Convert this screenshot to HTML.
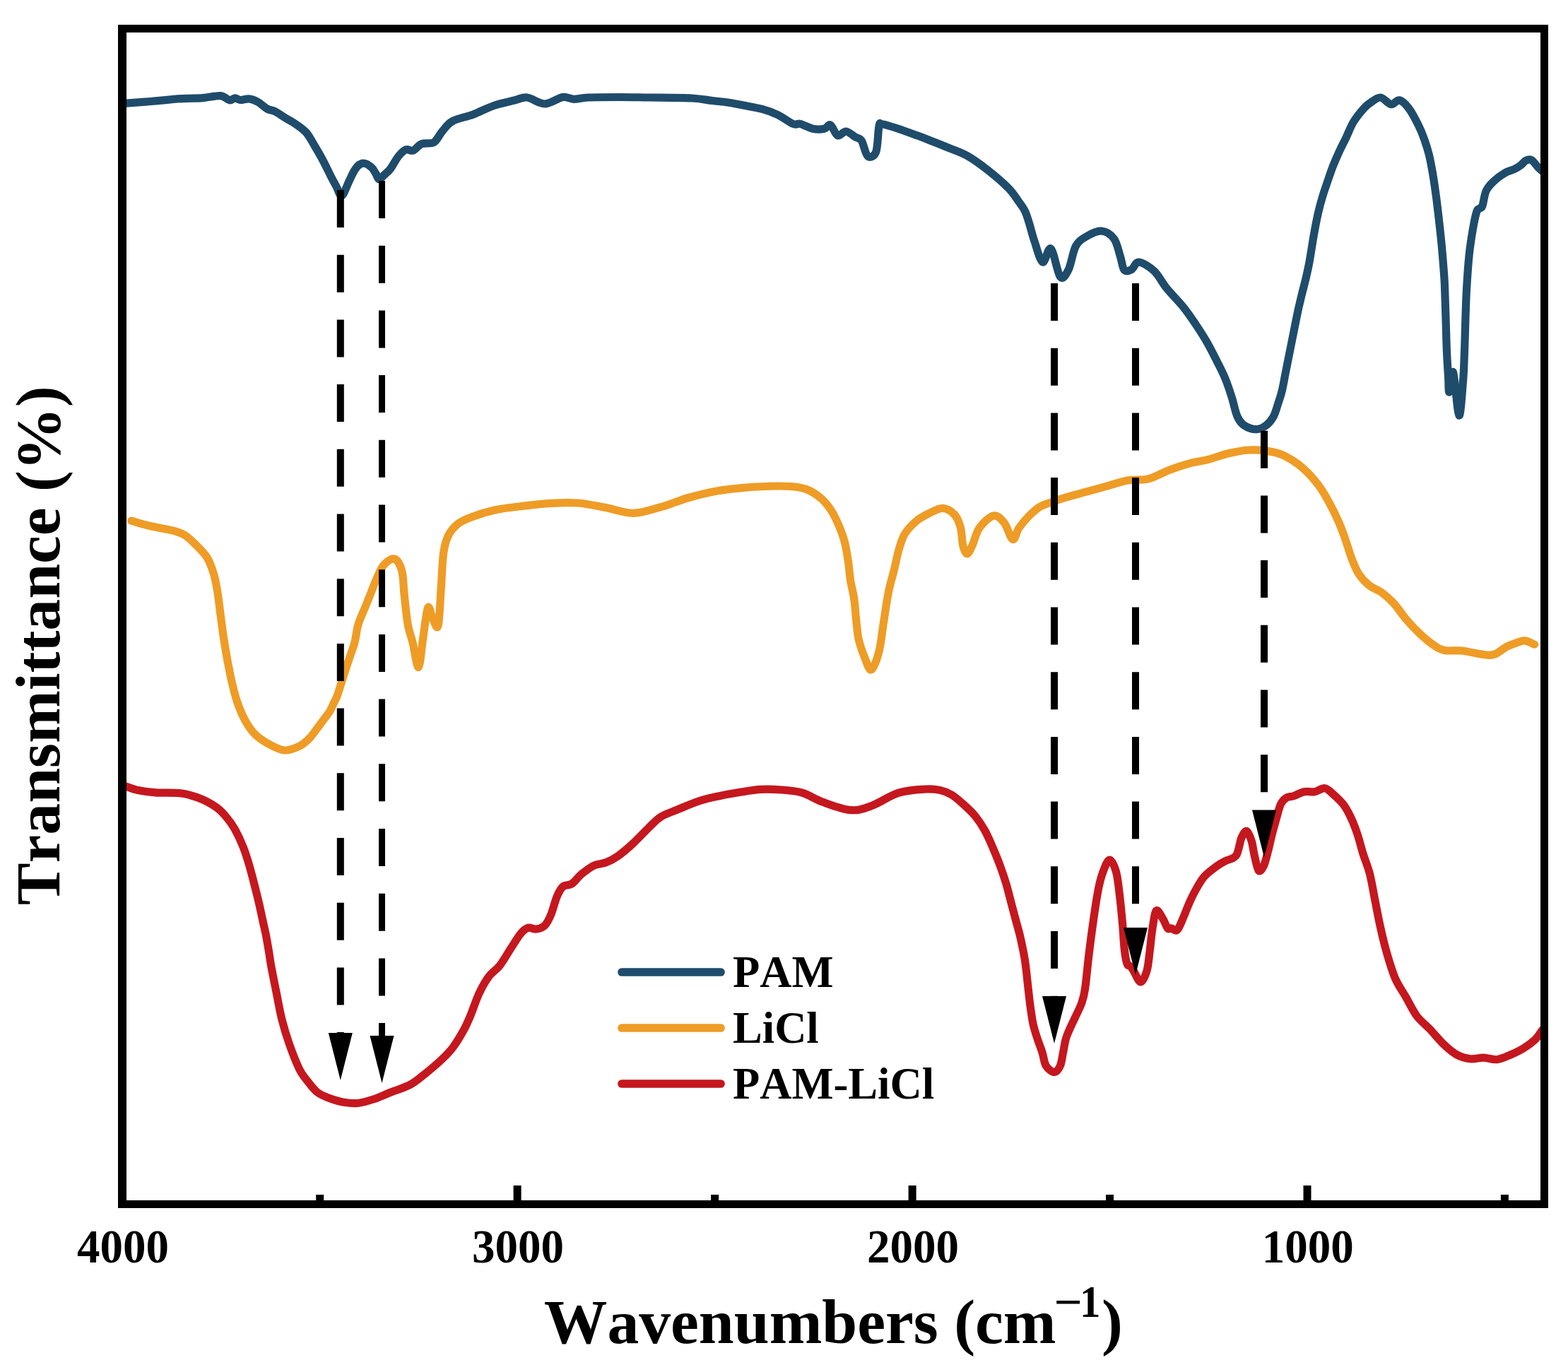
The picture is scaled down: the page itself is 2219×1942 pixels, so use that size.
<!DOCTYPE html>
<html><head><meta charset="utf-8"><style>
html,body{margin:0;padding:0;background:#fff;}
svg{display:block;}
text{font-kerning:none;font-family:"Liberation Serif","Times New Roman",serif;font-weight:bold;fill:#000;}
.tk{font-size:65px;}
.lg{font-size:62.6px;}
.ax{font-size:89.7px;}
</style></head><body>
<svg width="2219" height="1942" viewBox="0 0 2219 1942">
<rect width="2219" height="1942" fill="#fff"/>
<g fill="none" stroke-linejoin="round" stroke-linecap="round" stroke-width="11.2">
<path d="M176.0,146.3 C176.5,146.3 172.5,146.7 178.8,146.2 C185.1,145.7 200.8,144.6 214.0,143.5 C227.2,142.4 245.8,140.4 258.0,139.6 C270.2,138.8 278.0,139.3 287.0,138.6 C296.0,137.9 305.7,135.1 312.0,135.6 C318.3,136.1 321.6,141.3 325.0,141.8 C328.4,142.3 330.1,138.9 332.6,138.8 C335.1,138.8 336.6,141.3 340.0,141.5 C343.4,141.7 348.8,139.5 353.0,140.0 C357.2,140.5 360.8,142.0 365.0,144.3 C369.2,146.6 373.9,151.7 378.0,154.0 C382.1,156.3 385.4,155.8 389.7,158.0 C394.0,160.2 399.1,164.0 404.0,167.0 C408.9,170.0 414.1,172.5 419.0,176.0 C423.9,179.5 429.4,183.0 433.7,188.0 C438.0,193.0 441.1,199.5 445.0,206.0 C448.9,212.5 453.0,219.5 457.0,227.0 C461.0,234.5 465.8,244.8 469.0,251.0 C472.2,257.2 473.6,259.7 476.0,264.0 C478.4,268.3 480.7,278.2 483.7,277.0 C486.7,275.8 491.1,262.4 494.0,256.5 C496.9,250.6 498.9,245.7 501.3,241.8 C503.7,237.9 506.1,234.7 508.6,233.0 C511.2,231.3 513.7,230.7 516.6,231.4 C519.5,232.1 523.6,235.0 526.2,237.4 C528.8,239.8 530.3,243.3 532.0,246.0 C533.7,248.7 534.4,253.4 536.4,253.7 C538.4,254.0 541.0,250.1 543.7,247.7 C546.4,245.2 549.1,243.4 552.5,239.0 C555.9,234.6 560.3,225.5 564.0,221.0 C567.7,216.5 571.0,213.1 574.5,211.8 C578.0,210.5 581.1,214.3 584.8,213.0 C588.5,211.7 591.6,205.6 596.5,203.7 C601.4,201.8 609.1,204.4 614.0,201.5 C618.9,198.6 621.4,191.0 625.8,186.0 C630.2,181.0 633.1,175.5 640.4,171.5 C647.7,167.5 659.9,165.7 669.7,162.0 C679.5,158.3 689.3,152.8 699.0,149.5 C708.7,146.2 720.2,143.9 728.0,142.0 C735.8,140.1 738.8,137.2 746.0,138.0 C753.2,138.8 762.7,147.1 771.0,147.0 C779.3,146.9 789.2,138.7 796.0,137.6 C802.8,136.5 805.9,140.2 812.0,140.3 C818.1,140.4 821.8,138.5 832.5,138.0 C843.2,137.5 861.9,137.5 876.5,137.5 C891.1,137.5 902.9,137.8 920.0,138.0 C937.1,138.2 964.3,138.2 979.0,139.0 C993.7,139.8 999.5,141.5 1008.0,142.5 C1016.5,143.5 1023.1,144.0 1030.0,145.0 C1036.9,146.0 1041.2,147.0 1049.3,148.6 C1057.4,150.2 1070.0,152.1 1078.6,154.4 C1087.1,156.7 1093.3,159.0 1100.6,162.5 C1107.9,166.0 1117.1,173.2 1122.5,175.4 C1127.9,177.6 1128.1,174.2 1132.8,175.4 C1137.5,176.6 1144.8,181.2 1150.4,182.3 C1156.0,183.5 1162.3,183.2 1166.5,182.3 C1170.7,181.4 1172.1,175.4 1175.3,177.0 C1178.5,178.6 1181.8,190.3 1185.5,191.8 C1189.2,193.3 1193.0,185.6 1197.2,186.0 C1201.4,186.4 1206.7,191.8 1210.4,194.0 C1214.1,196.2 1216.3,194.5 1219.2,199.0 C1222.1,203.5 1224.6,218.3 1228.0,221.0 C1231.4,223.7 1237.0,222.1 1239.7,215.0 C1242.4,207.9 1242.5,185.2 1244.0,178.6 C1245.5,172.0 1244.3,175.2 1248.5,175.7 C1252.7,176.2 1260.8,178.8 1269.0,181.5 C1277.2,184.2 1289.5,188.7 1298.0,191.8 C1306.5,194.9 1313.1,197.6 1320.0,200.3 C1326.9,203.0 1331.2,204.7 1339.3,208.0 C1347.4,211.3 1358.8,214.8 1368.6,220.3 C1378.4,225.8 1388.2,233.1 1398.0,240.8 C1407.8,248.5 1419.9,258.9 1427.2,266.4 C1434.5,273.8 1437.9,280.1 1441.8,285.5 C1445.7,290.9 1448.1,293.9 1450.6,299.0 C1453.0,304.1 1454.3,309.0 1456.5,316.0 C1458.7,323.0 1460.6,331.8 1463.8,341.0 C1467.0,350.2 1471.6,369.2 1475.5,371.0 C1479.4,372.8 1483.0,348.6 1487.2,352.0 C1491.4,355.4 1496.3,386.7 1500.4,391.7 C1504.5,396.7 1508.3,389.2 1512.0,382.0 C1515.7,374.8 1518.2,356.3 1522.4,348.5 C1526.6,340.7 1530.9,338.6 1537.0,335.0 C1543.1,331.4 1552.4,326.5 1559.0,327.0 C1565.6,327.5 1572.2,332.0 1576.6,338.0 C1581.0,344.0 1583.0,355.7 1585.4,363.0 C1587.8,370.3 1588.3,378.9 1591.0,382.0 C1593.7,385.1 1598.0,383.2 1601.5,381.4 C1605.0,379.6 1606.4,370.6 1611.7,371.0 C1617.0,371.4 1627.0,377.6 1633.5,383.8 C1640.0,390.0 1644.1,399.5 1651.0,408.0 C1657.9,416.5 1667.6,425.9 1674.7,434.7 C1681.8,443.5 1687.7,452.4 1693.4,461.0 C1699.1,469.6 1704.1,477.3 1709.0,486.0 C1713.9,494.7 1718.8,504.7 1723.0,513.0 C1727.2,521.3 1730.6,527.7 1734.0,536.0 C1737.4,544.3 1740.6,554.1 1743.4,563.0 C1746.2,571.9 1748.1,582.9 1751.0,589.4 C1753.9,595.9 1756.1,599.0 1760.6,602.0 C1765.1,605.0 1772.6,607.7 1777.8,607.7 C1783.0,607.7 1787.9,605.0 1791.9,602.0 C1795.9,599.0 1799.2,595.0 1802.0,590.0 C1804.8,585.0 1806.5,578.1 1808.5,572.0 C1810.5,565.9 1812.3,561.2 1814.2,553.4 C1816.1,545.6 1817.9,534.4 1819.8,525.0 C1821.7,515.6 1823.5,506.3 1825.4,497.0 C1827.3,487.7 1829.1,478.3 1831.0,469.0 C1832.9,459.7 1834.7,450.0 1836.6,441.2 C1838.5,432.4 1840.5,424.2 1842.5,416.0 C1844.5,407.8 1846.7,400.0 1848.5,392.0 C1850.3,384.0 1851.7,378.2 1853.5,368.0 C1855.3,357.8 1857.6,342.2 1859.6,331.0 C1861.6,319.8 1863.6,309.6 1865.6,300.8 C1867.6,292.0 1869.4,285.6 1871.7,278.0 C1874.0,270.4 1876.7,262.8 1879.2,255.5 C1881.7,248.2 1883.9,241.4 1886.7,234.4 C1889.5,227.4 1892.8,219.8 1895.8,213.3 C1898.8,206.8 1901.5,202.0 1904.8,195.2 C1908.1,188.4 1911.1,179.6 1915.4,172.6 C1919.7,165.6 1926.4,157.6 1930.5,153.0 C1934.6,148.4 1936.2,147.5 1940.0,145.0 C1943.8,142.5 1948.8,137.6 1953.6,138.0 C1958.4,138.4 1964.2,147.1 1968.7,147.7 C1973.2,148.3 1976.2,140.8 1980.4,141.8 C1984.6,142.8 1989.3,147.6 1993.8,153.5 C1998.3,159.4 2003.6,169.8 2007.2,177.0 C2010.8,184.2 2013.1,190.0 2015.6,197.0 C2018.1,204.0 2020.3,211.0 2022.3,218.8 C2024.2,226.6 2025.6,234.2 2027.3,244.0 C2029.0,253.8 2030.6,264.8 2032.3,277.4 C2034.0,289.9 2035.9,306.7 2037.3,319.3 C2038.7,331.9 2039.6,340.2 2040.7,352.8 C2041.8,365.4 2043.3,383.4 2044.0,394.6 C2044.7,405.8 2044.6,409.0 2045.0,420.0 C2045.4,431.0 2045.9,447.0 2046.3,460.4 C2046.7,473.8 2047.0,488.3 2047.6,500.6 C2048.2,512.9 2049.0,524.9 2049.6,534.0 C2050.2,543.1 2049.8,556.2 2051.0,555.0 C2052.2,553.8 2054.2,521.5 2056.5,527.0 C2058.8,532.5 2062.5,585.7 2064.8,588.0 C2067.1,590.3 2069.1,555.4 2070.4,540.8 C2071.7,526.2 2071.8,514.9 2072.4,500.6 C2073.0,486.3 2073.3,470.1 2073.8,455.0 C2074.3,439.9 2074.6,425.6 2075.5,410.0 C2076.4,394.4 2077.6,375.5 2079.1,361.1 C2080.6,346.7 2082.7,333.9 2084.5,323.6 C2086.3,313.3 2088.2,304.3 2089.8,299.5 C2091.4,294.7 2092.7,296.4 2094.0,295.0 C2095.3,293.6 2096.4,295.6 2097.9,291.4 C2099.4,287.2 2100.5,275.8 2103.2,270.0 C2105.9,264.2 2109.4,260.8 2113.9,256.6 C2118.4,252.4 2125.1,247.5 2130.0,244.6 C2134.9,241.7 2139.7,241.0 2143.4,239.2 C2147.1,237.4 2149.3,236.0 2152.0,234.0 C2154.7,232.0 2156.9,228.4 2159.5,227.2 C2162.1,226.0 2164.8,225.1 2167.5,226.6 C2170.2,228.1 2173.4,233.3 2176.0,236.0 C2178.6,238.7 2181.8,241.4 2183.0,242.5" stroke="#1f4c6b"/>
<path d="M185.9,737.1 C190.3,738.3 202.7,742.2 212.4,744.5 C222.1,746.8 236.1,748.8 244.2,750.9 C252.3,753.0 255.9,754.0 261.2,757.2 C266.5,760.4 270.7,764.7 276.0,770.0 C281.3,775.3 288.6,781.9 293.0,789.0 C297.4,796.1 300.0,804.3 302.5,812.4 C305.0,820.5 306.2,828.3 307.8,837.8 C309.4,847.3 310.6,859.0 312.0,869.6 C313.4,880.2 314.7,890.8 316.3,901.4 C317.9,912.0 319.7,922.6 321.6,933.2 C323.6,943.8 325.7,955.1 328.0,965.0 C330.3,974.9 332.4,983.8 335.4,992.6 C338.4,1001.4 341.8,1010.2 346.0,1018.0 C350.2,1025.8 354.8,1033.2 360.8,1039.2 C366.8,1045.2 374.9,1050.2 382.0,1054.0 C389.1,1057.8 396.2,1061.7 403.2,1062.0 C410.2,1062.3 418.2,1058.8 424.0,1056.0 C429.8,1053.2 433.9,1049.1 438.0,1045.0 C442.1,1040.9 445.2,1035.8 448.4,1031.6 C451.6,1027.4 454.1,1023.9 457.0,1020.0 C459.9,1016.1 463.5,1012.0 466.0,1008.0 C468.5,1004.0 470.1,999.9 472.0,996.0 C473.9,992.1 475.4,989.9 477.3,984.7 C479.2,979.5 480.9,973.4 483.6,965.0 C486.3,956.6 490.4,943.7 493.5,934.4 C496.6,925.1 499.7,917.7 501.9,909.3 C504.1,900.9 504.4,892.6 506.9,884.2 C509.4,875.8 514.2,866.0 517.0,859.0 C519.8,852.0 520.9,849.3 523.7,842.3 C526.5,835.3 530.4,824.5 533.7,817.2 C537.1,810.0 539.6,803.1 543.8,798.8 C548.0,794.5 554.6,789.5 558.8,791.2 C563.0,792.9 566.7,800.3 568.9,808.8 C571.1,817.3 570.8,829.7 572.2,842.3 C573.6,854.9 575.2,873.0 577.2,884.2 C579.2,895.4 581.5,899.3 584.0,909.3 C586.5,919.3 589.8,945.8 592.3,944.4 C594.8,943.0 596.8,915.1 599.0,901.0 C601.2,886.9 603.5,864.1 605.7,859.9 C607.9,855.7 610.0,871.5 612.4,875.8 C614.8,880.1 618.0,892.8 620.0,885.8 C622.0,878.8 622.9,851.0 624.1,834.0 C625.4,817.0 625.8,796.3 627.5,783.7 C629.2,771.1 630.9,765.6 634.2,758.6 C637.6,751.6 642.0,746.4 647.6,741.9 C653.2,737.4 658.7,735.1 667.6,731.8 C676.5,728.4 688.9,724.4 701.0,721.8 C713.1,719.2 727.0,717.9 740.0,716.3 C753.0,714.7 766.0,713.0 779.0,712.3 C792.0,711.6 805.0,711.0 818.0,712.0 C831.0,713.0 844.2,716.2 857.2,718.6 C870.2,721.0 883.3,726.6 896.3,726.4 C909.3,726.2 922.3,721.2 935.3,717.6 C948.3,714.0 961.4,708.2 974.4,704.5 C987.4,700.8 1000.4,697.6 1013.4,695.2 C1026.4,692.8 1037.8,691.5 1052.5,690.3 C1067.2,689.1 1088.4,688.1 1101.3,688.0 C1114.2,687.9 1122.4,688.5 1130.0,689.7 C1137.6,690.9 1141.1,692.1 1146.7,695.0 C1152.3,697.9 1158.5,702.0 1163.5,706.8 C1168.5,711.5 1173.0,717.4 1176.9,723.5 C1180.8,729.6 1183.9,736.4 1187.0,743.6 C1190.1,750.9 1193.1,758.6 1195.3,767.0 C1197.5,775.4 1198.9,784.6 1200.3,793.8 C1201.7,803.0 1202.3,813.4 1203.7,822.3 C1205.1,831.2 1207.3,837.6 1208.7,847.4 C1210.1,857.2 1210.9,871.2 1212.0,881.0 C1213.1,890.8 1213.4,897.7 1215.4,906.0 C1217.4,914.3 1220.9,924.0 1223.8,931.0 C1226.7,938.0 1229.7,949.3 1233.0,947.9 C1236.3,946.5 1240.9,933.9 1243.8,922.8 C1246.7,911.6 1248.3,895.0 1250.5,881.0 C1252.7,867.0 1254.7,851.6 1257.2,839.0 C1259.7,826.4 1263.1,815.9 1265.6,805.6 C1268.1,795.3 1269.8,785.4 1272.3,777.0 C1274.8,768.6 1276.5,762.0 1280.7,755.3 C1284.9,748.6 1291.8,741.7 1297.4,737.0 C1303.0,732.3 1308.1,729.9 1314.2,726.9 C1320.3,723.9 1328.2,719.0 1334.3,719.3 C1340.4,719.6 1346.8,724.0 1351.0,728.6 C1355.2,733.2 1357.5,739.8 1359.4,747.0 C1361.4,754.2 1361.2,765.8 1362.7,772.0 C1364.2,778.2 1366.4,784.0 1368.6,784.0 C1370.8,784.0 1373.1,778.2 1376.0,772.0 C1378.9,765.8 1381.2,754.0 1386.2,747.0 C1391.2,740.0 1400.4,731.1 1406.2,730.0 C1412.0,728.9 1416.8,734.7 1421.3,740.3 C1425.8,745.9 1429.8,762.3 1433.2,763.5 C1436.7,764.7 1438.1,753.0 1442.0,747.4 C1445.9,741.8 1451.7,734.9 1456.6,729.9 C1461.5,724.9 1466.4,720.5 1471.3,717.4 C1476.2,714.3 1479.9,713.7 1486.0,711.5 C1492.1,709.3 1499.5,706.8 1508.0,704.2 C1516.5,701.7 1527.5,698.9 1537.2,696.2 C1547.0,693.5 1556.7,690.8 1566.5,688.1 C1576.3,685.4 1586.0,681.7 1595.8,680.0 C1605.5,678.3 1615.2,680.3 1625.0,677.9 C1634.8,675.5 1644.6,669.1 1654.4,665.4 C1664.2,661.7 1674.4,658.4 1683.7,655.9 C1693.0,653.4 1700.9,652.8 1710.0,650.4 C1719.1,648.0 1729.0,644.0 1738.5,641.8 C1748.0,639.6 1758.5,637.6 1767.0,637.0 C1775.5,636.4 1781.8,636.9 1789.7,638.0 C1797.6,639.1 1805.6,639.8 1814.4,643.7 C1823.2,647.7 1834.3,654.6 1842.8,661.7 C1851.3,668.8 1859.3,678.2 1865.6,686.4 C1871.9,694.6 1876.1,702.5 1880.8,711.0 C1885.5,719.5 1890.2,729.1 1894.0,737.6 C1897.8,746.1 1900.3,753.4 1903.5,762.3 C1906.7,771.2 1909.8,782.6 1913.0,790.8 C1916.2,799.0 1918.4,805.4 1922.5,811.7 C1926.6,818.0 1932.3,824.3 1937.7,828.7 C1943.1,833.1 1949.1,834.1 1954.8,838.2 C1960.5,842.3 1966.0,847.0 1971.9,853.4 C1977.8,859.8 1983.7,869.3 1990.0,876.6 C1996.3,883.9 2003.0,891.0 2009.5,897.1 C2016.0,903.2 2023.3,909.3 2029.0,913.2 C2034.7,917.1 2037.2,919.2 2043.7,920.5 C2050.2,921.8 2060.8,920.3 2068.1,921.0 C2075.4,921.7 2081.2,923.4 2087.7,924.5 C2094.2,925.6 2102.3,927.2 2107.2,927.4 C2112.1,927.5 2112.9,927.3 2117.0,925.4 C2121.1,923.5 2126.7,918.3 2131.6,915.7 C2136.5,913.1 2141.8,911.3 2146.2,909.8 C2150.6,908.3 2153.8,906.5 2158.0,906.9 C2162.2,907.3 2169.3,911.3 2171.6,912.2" stroke="#ee9c26"/>
<path d="M179.2,1113.4 C181.8,1114.2 188.3,1117.1 195.1,1118.5 C201.9,1119.9 210.4,1121.1 220.2,1121.8 C230.0,1122.5 245.3,1121.9 253.7,1122.6 C262.1,1123.3 264.9,1124.5 270.5,1126.0 C276.1,1127.5 281.1,1129.0 287.2,1131.9 C293.3,1134.8 301.7,1139.4 307.3,1143.6 C312.9,1147.8 316.5,1152.0 320.7,1157.0 C324.9,1162.0 328.5,1166.7 332.4,1173.7 C336.3,1180.7 340.8,1190.4 344.1,1198.8 C347.5,1207.2 350.0,1215.6 352.5,1224.0 C355.0,1232.4 357.3,1241.7 359.2,1249.0 C361.1,1256.3 362.5,1262.0 364.0,1268.0 C365.5,1274.0 366.6,1278.7 368.0,1285.0 C369.4,1291.3 371.0,1299.2 372.5,1306.0 C374.0,1312.8 375.5,1318.9 376.8,1325.7 C378.1,1332.5 379.3,1339.8 380.5,1347.0 C381.7,1354.2 382.2,1359.3 384.0,1369.0 C385.8,1378.7 388.8,1393.2 391.2,1405.2 C393.6,1417.2 395.5,1429.2 398.5,1441.3 C401.5,1453.3 405.1,1465.5 409.3,1477.5 C413.5,1489.5 419.5,1504.8 423.8,1513.6 C428.1,1522.3 430.8,1524.6 435.0,1530.0 C439.2,1535.4 444.0,1542.0 449.0,1546.0 C454.0,1550.0 459.0,1551.7 465.0,1554.0 C471.0,1556.3 478.4,1558.8 485.2,1560.0 C492.0,1561.2 498.8,1562.2 506.0,1561.5 C513.2,1560.8 520.7,1558.4 528.2,1556.0 C535.7,1553.6 542.0,1550.5 550.8,1547.0 C559.6,1543.5 572.2,1539.8 581.0,1535.0 C589.8,1530.2 596.0,1524.3 603.5,1518.3 C611.0,1512.2 619.8,1504.7 626.1,1498.7 C632.4,1492.7 636.2,1489.0 641.2,1482.2 C646.2,1475.4 652.2,1465.4 656.3,1458.0 C660.4,1450.6 662.0,1446.5 665.6,1438.0 C669.2,1429.5 673.4,1416.0 677.7,1406.8 C682.0,1397.6 686.6,1389.2 691.5,1382.6 C696.4,1376.0 701.8,1373.6 707.0,1367.0 C712.2,1360.4 717.8,1350.3 722.7,1342.8 C727.6,1335.3 732.5,1326.9 736.5,1322.0 C740.5,1317.1 743.1,1314.6 746.9,1313.4 C750.6,1312.2 755.0,1315.6 759.0,1315.0 C763.0,1314.4 767.5,1313.4 771.0,1310.0 C774.5,1306.6 776.9,1301.3 779.8,1294.4 C782.7,1287.5 785.5,1275.0 788.4,1268.4 C791.3,1261.8 793.5,1257.5 797.0,1254.6 C800.5,1251.7 804.9,1253.9 809.2,1251.0 C813.5,1248.1 817.8,1241.6 823.0,1237.3 C828.2,1233.0 834.5,1228.0 840.3,1225.2 C846.1,1222.5 851.8,1223.1 857.6,1220.8 C863.4,1218.5 868.6,1215.8 875.0,1211.3 C881.4,1206.8 888.5,1200.6 895.7,1194.0 C902.9,1187.4 911.6,1177.8 918.2,1171.5 C924.8,1165.2 928.6,1160.3 935.5,1156.0 C942.4,1151.7 950.6,1149.4 959.5,1145.7 C968.4,1142.0 979.0,1137.2 988.8,1134.0 C998.5,1130.8 1008.2,1128.8 1018.0,1126.7 C1027.8,1124.6 1037.6,1122.9 1047.4,1121.3 C1057.2,1119.7 1066.9,1117.8 1076.7,1117.3 C1086.5,1116.8 1096.2,1117.2 1106.0,1118.0 C1115.8,1118.8 1125.5,1119.3 1135.3,1122.2 C1145.1,1125.1 1153.2,1131.2 1164.6,1135.3 C1176.0,1139.4 1192.3,1145.7 1203.7,1146.6 C1215.1,1147.5 1221.6,1144.9 1233.0,1140.8 C1244.4,1136.7 1259.0,1126.2 1272.0,1122.2 C1285.0,1118.2 1301.3,1117.6 1311.0,1117.0 C1320.7,1116.4 1324.0,1117.1 1330.0,1118.4 C1336.0,1119.7 1341.1,1121.7 1346.7,1125.0 C1352.3,1128.3 1357.9,1133.5 1363.5,1138.5 C1369.1,1143.5 1375.2,1149.1 1380.2,1155.2 C1385.2,1161.3 1389.4,1167.8 1393.6,1175.3 C1397.8,1182.8 1401.7,1192.1 1405.3,1200.5 C1408.9,1208.9 1412.3,1217.2 1415.4,1225.6 C1418.5,1234.0 1421.3,1242.3 1423.8,1250.7 C1426.3,1259.1 1428.3,1267.4 1430.5,1275.8 C1432.7,1284.2 1434.9,1292.6 1437.1,1301.0 C1439.3,1309.4 1441.6,1316.2 1443.8,1326.0 C1446.0,1335.8 1448.6,1347.2 1450.5,1359.5 C1452.4,1371.8 1453.9,1389.0 1455.2,1400.0 C1456.5,1411.0 1457.0,1416.8 1458.2,1425.2 C1459.4,1433.6 1460.5,1442.8 1462.2,1450.3 C1463.9,1457.8 1466.0,1463.7 1468.2,1470.4 C1470.4,1477.1 1473.2,1484.1 1475.2,1490.5 C1477.2,1496.9 1477.5,1504.1 1480.3,1508.6 C1483.1,1513.1 1488.9,1517.7 1492.3,1517.7 C1495.7,1517.7 1498.4,1513.1 1500.4,1508.6 C1502.4,1504.1 1503.1,1496.9 1504.4,1490.5 C1505.7,1484.1 1506.7,1476.3 1508.4,1470.4 C1510.1,1464.5 1512.2,1460.3 1514.4,1455.3 C1516.6,1450.3 1518.7,1446.1 1521.4,1440.3 C1524.1,1434.5 1528.2,1426.9 1530.5,1420.2 C1532.8,1413.5 1533.8,1411.5 1535.5,1400.0 C1537.2,1388.5 1539.0,1367.5 1541.0,1351.0 C1543.0,1334.5 1545.4,1316.3 1547.6,1301.0 C1549.8,1285.7 1552.1,1270.2 1554.3,1259.0 C1556.5,1247.8 1558.3,1241.0 1561.0,1234.0 C1563.7,1227.0 1567.2,1217.0 1570.3,1217.0 C1573.4,1217.0 1577.1,1225.6 1579.5,1234.0 C1581.9,1242.4 1583.0,1254.9 1584.5,1267.4 C1586.0,1280.0 1587.6,1296.7 1588.7,1309.3 C1589.8,1321.9 1590.2,1333.7 1591.2,1342.8 C1592.2,1351.9 1593.5,1359.8 1595.0,1364.0 C1596.5,1368.2 1598.5,1366.3 1600.0,1368.0 C1601.5,1369.7 1601.8,1370.4 1604.2,1374.1 C1606.6,1377.8 1611.2,1390.0 1614.3,1390.0 C1617.4,1390.0 1620.9,1381.1 1623.0,1374.0 C1625.1,1366.9 1625.7,1357.4 1627.0,1347.4 C1628.3,1337.4 1629.4,1323.6 1631.0,1313.9 C1632.6,1304.2 1634.0,1291.2 1636.4,1289.0 C1638.9,1286.8 1643.0,1296.3 1645.7,1300.5 C1648.4,1304.7 1650.4,1311.7 1652.4,1313.9 C1654.4,1316.1 1655.6,1313.5 1657.8,1313.9 C1660.0,1314.3 1663.1,1318.7 1665.8,1316.5 C1668.5,1314.3 1671.0,1307.0 1673.9,1300.5 C1676.8,1294.0 1679.9,1285.1 1683.2,1277.7 C1686.5,1270.3 1690.4,1262.5 1694.0,1256.3 C1697.6,1250.0 1700.2,1245.1 1704.7,1240.2 C1709.2,1235.3 1715.9,1230.4 1720.8,1226.8 C1725.7,1223.2 1730.0,1220.8 1734.0,1218.8 C1738.0,1216.8 1742.2,1216.2 1744.9,1214.7 C1747.6,1213.2 1748.6,1212.4 1750.0,1210.0 C1751.4,1207.6 1751.9,1204.6 1753.1,1200.5 C1754.3,1196.4 1755.2,1189.5 1757.1,1185.5 C1758.9,1181.5 1761.8,1175.6 1764.2,1176.4 C1766.6,1177.2 1769.4,1184.8 1771.2,1190.5 C1773.0,1196.2 1773.5,1203.6 1775.2,1210.6 C1776.9,1217.5 1779.0,1229.7 1781.2,1232.2 C1783.4,1234.7 1786.1,1230.1 1788.3,1225.7 C1790.5,1221.3 1792.3,1213.1 1794.3,1205.6 C1796.3,1198.1 1798.3,1188.4 1800.3,1180.5 C1802.3,1172.6 1804.3,1165.4 1806.3,1158.4 C1808.3,1151.4 1810.1,1143.2 1812.4,1138.3 C1814.8,1133.4 1817.4,1131.1 1820.4,1129.2 C1823.4,1127.3 1826.3,1128.1 1830.5,1126.7 C1834.7,1125.3 1840.5,1121.7 1845.5,1120.7 C1850.5,1119.7 1855.7,1121.5 1860.6,1120.7 C1865.5,1119.9 1870.5,1115.3 1874.7,1115.7 C1878.9,1116.1 1881.4,1119.4 1885.7,1123.2 C1890.0,1127.0 1896.6,1133.0 1900.8,1138.3 C1905.0,1143.6 1907.4,1148.3 1910.8,1155.3 C1914.2,1162.3 1917.9,1171.6 1920.9,1180.5 C1923.9,1189.4 1926.1,1199.1 1929.0,1208.5 C1931.9,1217.9 1935.7,1225.9 1938.5,1237.0 C1941.3,1248.1 1943.5,1262.3 1946.0,1274.9 C1948.5,1287.5 1950.8,1300.2 1953.6,1312.8 C1956.4,1325.4 1959.6,1338.7 1963.1,1350.7 C1966.6,1362.7 1970.1,1374.8 1974.5,1384.9 C1978.9,1395.0 1984.6,1402.7 1989.7,1411.5 C1994.8,1420.3 1999.2,1430.4 2004.9,1438.0 C2010.6,1445.6 2017.5,1450.3 2023.8,1457.0 C2030.1,1463.7 2036.5,1471.9 2042.8,1477.9 C2049.1,1483.9 2055.5,1489.5 2061.8,1493.0 C2068.1,1496.5 2074.4,1498.0 2080.7,1498.7 C2087.0,1499.4 2093.4,1497.0 2099.7,1497.2 C2106.0,1497.4 2112.4,1500.4 2118.7,1499.7 C2125.0,1499.0 2131.4,1495.7 2137.7,1493.0 C2144.0,1490.3 2150.9,1487.0 2156.6,1483.5 C2162.3,1480.0 2168.0,1475.7 2171.8,1472.2 C2175.6,1468.7 2177.5,1465.2 2179.4,1462.7 C2181.3,1460.2 2182.4,1458.4 2183.0,1457.5" stroke="#c5171e"/>
</g>
<line x1="481.8" y1="269" x2="481.8" y2="1464" stroke="#000" stroke-width="10" stroke-dasharray="53 38.7"/>
<polygon points="464.8,1462 498.8,1462 481.8,1529" fill="#000"/>
<line x1="540.5" y1="256" x2="540.5" y2="1468" stroke="#000" stroke-width="9" stroke-dasharray="53 38.7"/>
<polygon points="523.5,1466 557.5,1466 540.5,1533" fill="#000"/>
<line x1="1492" y1="401" x2="1492" y2="1412" stroke="#000" stroke-width="10" stroke-dasharray="53 38.7"/>
<polygon points="1475.0,1410 1509.0,1410 1492,1477" fill="#000"/>
<line x1="1607" y1="401" x2="1607" y2="1315" stroke="#000" stroke-width="10" stroke-dasharray="53 38.7"/>
<polygon points="1590.0,1313 1624.0,1313 1607,1380" fill="#000"/>
<line x1="1789" y1="609.7" x2="1789" y2="1148.6" stroke="#000" stroke-width="10" stroke-dasharray="53 38.7"/>
<polygon points="1772.0,1146.6 1806.0,1146.6 1789,1213.6" fill="#000"/>
<g stroke-linecap="round" stroke-width="11.7">
<line x1="880" y1="1376" x2="1020" y2="1376" stroke="#1f4c6b"/>
<line x1="880" y1="1455" x2="1020" y2="1455" stroke="#ee9c26"/>
<line x1="880" y1="1534" x2="1020" y2="1534" stroke="#c5171e"/>
</g>
<text x="1037" y="1397" class="lg">PAM</text>
<text x="1037" y="1476" class="lg">LiCl</text>
<text x="1037" y="1554.5" class="lg">PAM-LiCl</text>
<rect x="726.6" y="1678" width="11" height="22" fill="#000"/><rect x="1285.6" y="1678" width="11" height="22" fill="#000"/><rect x="1844.5" y="1678" width="11" height="22" fill="#000"/><rect x="447.2" y="1691" width="11" height="9" fill="#000"/><rect x="1006.1" y="1691" width="11" height="9" fill="#000"/><rect x="1565.0" y="1691" width="11" height="9" fill="#000"/><rect x="2123.9" y="1691" width="11" height="9" fill="#000"/>
<rect x="167" y="35" width="2024" height="11" fill="#000"/>
<rect x="167" y="1699" width="2024" height="11" fill="#000"/>
<rect x="167" y="35" width="12" height="1675" fill="#000"/>
<rect x="2180" y="35" width="11" height="1675" fill="#000"/>
<text x="174.0" y="0" transform="translate(0,1787) scale(1,1.048)" text-anchor="middle" class="tk">4000</text><text x="732.9" y="0" transform="translate(0,1787) scale(1,1.048)" text-anchor="middle" class="tk">3000</text><text x="1291.9" y="0" transform="translate(0,1787) scale(1,1.048)" text-anchor="middle" class="tk">2000</text><text x="1850.8" y="0" transform="translate(0,1787) scale(1,1.048)" text-anchor="middle" class="tk">1000</text>
<text class="ax" transform="translate(83.7,1281.3) rotate(-90)" x="0" y="0">Transmittance (%)</text>
<text class="ax" x="769.7" y="1901">Wavenumbers (cm</text>
<text class="ax" x="1559.1" y="1901">)</text>
<text x="0" y="0" transform="translate(1491.5,1863.7) scale(1.14,1)" style="font-size:62px">&#8722;</text>
<text x="0" y="0" transform="translate(1528,1863.7) scale(0.92,1)" style="font-size:64px">1</text>
</svg>
</body></html>
